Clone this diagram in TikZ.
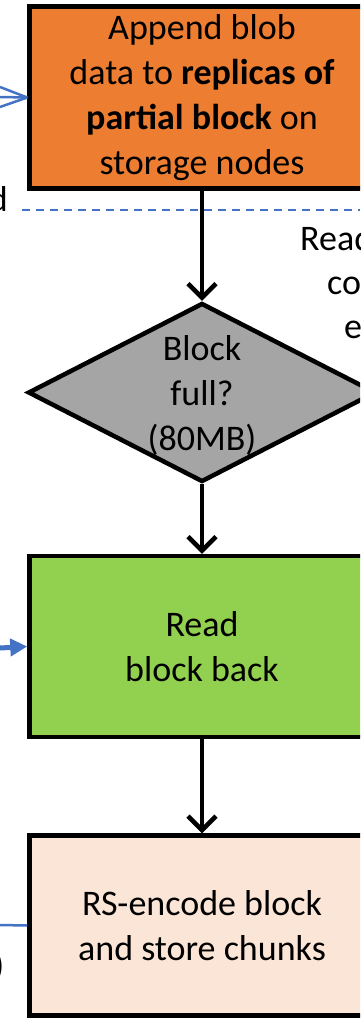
\documentclass[tikz,border=0pt]{standalone}
\usepackage{fontspec}
\setmainfont{Carlito}
\usetikzlibrary{arrows.meta,shapes.geometric}
\definecolor{appendfill}{HTML}{ED7D31}
\definecolor{checkfill}{HTML}{A5A5A5}
\definecolor{readfill}{HTML}{92D050}
\definecolor{encodefill}{HTML}{FBE5D6}
\definecolor{linkblue}{HTML}{4472C4}
\tikzset{
  bigfont/.style={font=\fontsize{36}{45}\selectfont},
  stepbox/.style={draw=black, line width=4.5pt, rectangle, inner sep=0pt,
    minimum width=345pt, align=center, bigfont},
  decision/.style={draw=black, line width=4.5pt, diamond, inner sep=0pt,
    fill=checkfill, minimum width=348pt, minimum height=179pt},
  txt/.style={inner sep=0pt, align=center, bigfont},
  flow/.style={draw=black, line width=4.5pt,
    -{Straight Barb[length=14pt,width=28pt]}},
  inlink/.style={draw=linkblue, line width=2.5pt},
}
\begin{document}
\begin{tikzpicture}[x=1pt,y=-1pt]
\useasboundingbox (0,0) rectangle (360,1018);
\clip (0,0) rectangle (360,1018);

% dashed separator, drawn first so the flow arrow passes over it
\coordinate (dashL) at (22,210);
\coordinate (dashR) at (360,210);
\draw[linkblue, line width=1.5pt, dash pattern=on 8pt off 6pt] (dashL) -- (dashR);

% process steps
\node[stepbox, fill=appendfill, minimum height=182pt] (append) at (202,97.5)
  {Append blob\\data to \textbf{replicas of}\\\textbf{partial block} on\\storage nodes};
\node[decision] (full) at (202,392.5) {};
\node[txt] (fulltext) at (202,395) {Block\\full?\\(80MB)};
\node[stepbox, fill=readfill, minimum height=181pt] (readback) at (202,646.5)
  {Read\\block back};
\node[stepbox, fill=encodefill, minimum height=180pt] (encode) at (202,925.5)
  {RS-encode block\\and store chunks};

% main flow
\draw[flow] (append) -- (full);
\draw[flow] (full) -- (readback);
\draw[flow] (readback) -- (encode);

% incoming links from the left
\coordinate (inA) at (0,87);
\coordinate (inB) at (0,97);
\coordinate (inC) at (0,107);
\draw[inlink] (inA) -- (append.west);
\draw[inlink] (inB) -- (append.west);
\draw[inlink] (inC) -- (append.west);

\coordinate (rbIn) at (0,648);
\draw[draw=linkblue, line width=5pt, -{Triangle[length=17pt,width=17pt]}] (rbIn) -- (readback.west);

\coordinate (encIn) at (0,925);
\draw[inlink] (encIn) -- (encode.west);

% side captions
\node[txt, anchor=base west] (sideA) at (300,250) {Read};
\node[txt, anchor=base west] (sideB) at (327,294) {co};
\node[txt, anchor=base west] (sideC) at (344,338) {e};
\node[txt, anchor=base east] (leftA) at (8,211) {d};
\node[txt, anchor=east] (leftB) at (4.5,967) {)};
\end{tikzpicture}
\end{document}
